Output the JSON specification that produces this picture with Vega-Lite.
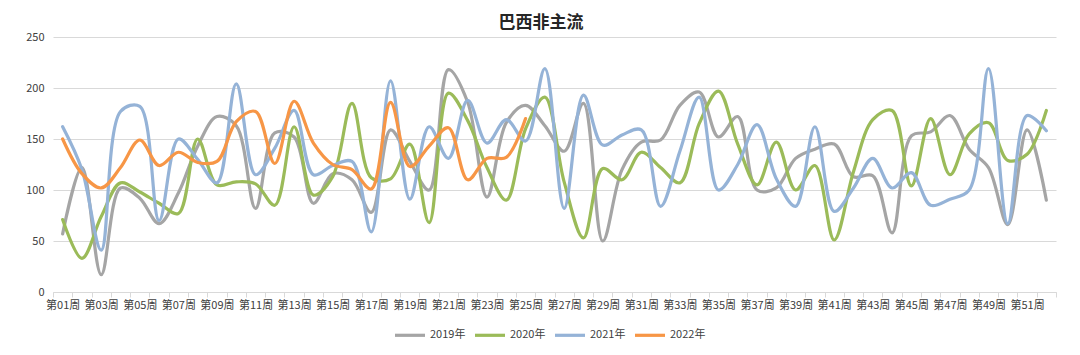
{
  "$schema": "https://vega.github.io/schema/vega-lite/v6.json",
  "width": 1003,
  "height": 255,
  "autosize": {"type": "none"},
  "padding": {"left": 53, "top": 37, "right": 24, "bottom": 63},
  "background": "white",
  "title": {"text": "巴西非主流", "anchor": "middle", "frame": "bounds", "fontSize": 17, "fontWeight": "bold", "font": "Noto Sans CJK SC", "color": "#262626", "offset": -1},
  "config": {"view": {"stroke": null}, "font": "Noto Sans CJK SC"},
  "data": {"values": [
    {"week": "第01周", "2019年": 57, "2020年": 71, "2021年": 162, "2022年": 150},
    {"week": "第02周", "2019年": 122, "2020年": 33, "2021年": 120, "2022年": 116},
    {"week": "第03周", "2019年": 17, "2020年": 74, "2021年": 41, "2022年": 102},
    {"week": "第04周", "2019年": 102, "2020年": 107, "2021年": 177, "2022年": 122},
    {"week": "第05周", "2019年": 92, "2020年": 98, "2021年": 182, "2022年": 149},
    {"week": "第06周", "2019年": 67, "2020年": 87, "2021年": 70, "2022年": 124},
    {"week": "第07周", "2019年": 97, "2020年": 77, "2021年": 150, "2022年": 137},
    {"week": "第08周", "2019年": 143, "2020年": 150, "2021年": 130, "2022年": 127},
    {"week": "第09周", "2019年": 172, "2020年": 105, "2021年": 107, "2022年": 128},
    {"week": "第10周", "2019年": 163, "2020年": 108, "2021年": 204, "2022年": 167},
    {"week": "第11周", "2019年": 82, "2020年": 106, "2021年": 115, "2022年": 177},
    {"week": "第12周", "2019年": 156, "2020年": 85, "2021年": 141, "2022年": 126},
    {"week": "第13周", "2019年": 152, "2020年": 162, "2021年": 178, "2022年": 187},
    {"week": "第14周", "2019年": 87, "2020年": 95, "2021年": 115, "2022年": 146},
    {"week": "第15周", "2019年": 116, "2020年": 113, "2021年": 124, "2022年": 125},
    {"week": "第16周", "2019年": 110, "2020年": 185, "2021年": 128, "2022年": 120},
    {"week": "第17周", "2019年": 78, "2020年": 112, "2021年": 59, "2022年": 101},
    {"week": "第18周", "2019年": 159, "2020年": 111, "2021年": 207, "2022年": 186},
    {"week": "第19周", "2019年": 128, "2020年": 145, "2021年": 91, "2022年": 123},
    {"week": "第20周", "2019年": 100, "2020年": 68, "2021年": 162, "2022年": 143},
    {"week": "第21周", "2019年": 218, "2020年": 195, "2021年": 131, "2022年": 161},
    {"week": "第22周", "2019年": 186, "2020年": 168, "2021年": 188, "2022年": 110},
    {"week": "第23周", "2019年": 93, "2020年": 122, "2021年": 146, "2022年": 131},
    {"week": "第24周", "2019年": 166, "2020年": 90, "2021年": 169, "2022年": 132},
    {"week": "第25周", "2019年": 183, "2020年": 160, "2021年": 148, "2022年": 170},
    {"week": "第26周", "2019年": 163, "2020年": 191, "2021年": 219, "2022年": null},
    {"week": "第27周", "2019年": 138, "2020年": 108, "2021年": 82, "2022年": null},
    {"week": "第28周", "2019年": 185, "2020年": 53, "2021年": 193, "2022年": null},
    {"week": "第29周", "2019年": 50, "2020年": 121, "2021年": 144, "2022年": null},
    {"week": "第30周", "2019年": 120, "2020年": 110, "2021年": 154, "2022年": null},
    {"week": "第31周", "2019年": 147, "2020年": 137, "2021年": 159, "2022年": null},
    {"week": "第32周", "2019年": 149, "2020年": 122, "2021年": 84, "2022年": null},
    {"week": "第33周", "2019年": 183, "2020年": 107, "2021年": 138, "2022年": null},
    {"week": "第34周", "2019年": 196, "2020年": 165, "2021年": 191, "2022年": null},
    {"week": "第35周", "2019年": 152, "2020年": 197, "2021年": 100, "2022年": null},
    {"week": "第36周", "2019年": 172, "2020年": 145, "2021年": 125, "2022年": null},
    {"week": "第37周", "2019年": 100, "2020年": 105, "2021年": 164, "2022年": null},
    {"week": "第38周", "2019年": 102, "2020年": 147, "2021年": 111, "2022年": null},
    {"week": "第39周", "2019年": 131, "2020年": 100, "2021年": 84, "2022年": null},
    {"week": "第40周", "2019年": 140, "2020年": 124, "2021年": 162, "2022年": null},
    {"week": "第41周", "2019年": 145, "2020年": 51, "2021年": 79, "2022年": null},
    {"week": "第42周", "2019年": 113, "2020年": 118, "2021年": 102, "2022年": null},
    {"week": "第43周", "2019年": 114, "2020年": 169, "2021年": 131, "2022年": null},
    {"week": "第44周", "2019年": 58, "2020年": 178, "2021年": 102, "2022年": null},
    {"week": "第45周", "2019年": 153, "2020年": 104, "2021年": 117, "2022年": null},
    {"week": "第46周", "2019年": 157, "2020年": 170, "2021年": 85, "2022年": null},
    {"week": "第47周", "2019年": 173, "2020年": 115, "2021年": 91, "2022年": null},
    {"week": "第48周", "2019年": 140, "2020年": 155, "2021年": 100, "2022年": null},
    {"week": "第49周", "2019年": 122, "2020年": 166, "2021年": 219, "2022年": null},
    {"week": "第50周", "2019年": 66, "2020年": 129, "2021年": 67, "2022年": null},
    {"week": "第51周", "2019年": 159, "2020年": 135, "2021年": 173, "2022年": null},
    {"week": "第52周", "2019年": 90, "2020年": 178, "2021年": 158, "2022年": null}
  ]},
  "transform": [
    {"fold": ["2019年", "2020年", "2021年", "2022年"], "as": ["year", "value"]},
    {"filter": "datum.value != null"}
  ],
  "mark": {"type": "line", "interpolate": "catmull-rom", "strokeWidth": 3.2, "strokeCap": "round"},
  "encoding": {
    "x": {
      "field": "week", "type": "ordinal", "sort": null,
      "bandPosition": 0.5,
      "scale": {"type": "band", "paddingInner": 0, "paddingOuter": 0},
      "axis": {
        "title": null, "labelAngle": 0, "tickBand": "extent", "grid": false,
        "labelExpr": "parseInt(substring(datum.label, 1, 3)) % 2 == 1 ? datum.label : ''",
        "labelOverlap": false, "labelFontSize": 11, "labelColor": "#404040",
        "domainColor": "#D9D9D9", "tickColor": "#D9D9D9", "tickSize": 5, "labelPadding": 2
      }
    },
    "y": {
      "field": "value", "type": "quantitative",
      "scale": {"domain": [0, 250], "nice": false},
      "axis": {
        "title": null, "values": [0, 50, 100, 150, 200, 250], "domain": false, "ticks": false,
        "gridColor": "#D9D9D9", "labelFontSize": 11, "labelColor": "#404040", "labelPadding": 9
      }
    },
    "color": {
      "field": "year", "type": "nominal",
      "scale": {"domain": ["2019年", "2020年", "2021年", "2022年"], "range": ["#A5A5A5", "#9BBB59", "#95B3D7", "#F79646"]},
      "legend": {
        "title": null, "orient": "none", "legendX": 340, "legendY": 281, "direction": "horizontal",
        "symbolType": "stroke", "symbolSize": 900, "symbolStrokeWidth": 3.2,
        "labelFontSize": 11, "labelColor": "#404040", "labelOffset": 3, "columnPadding": 2
      }
    }
  }
}
